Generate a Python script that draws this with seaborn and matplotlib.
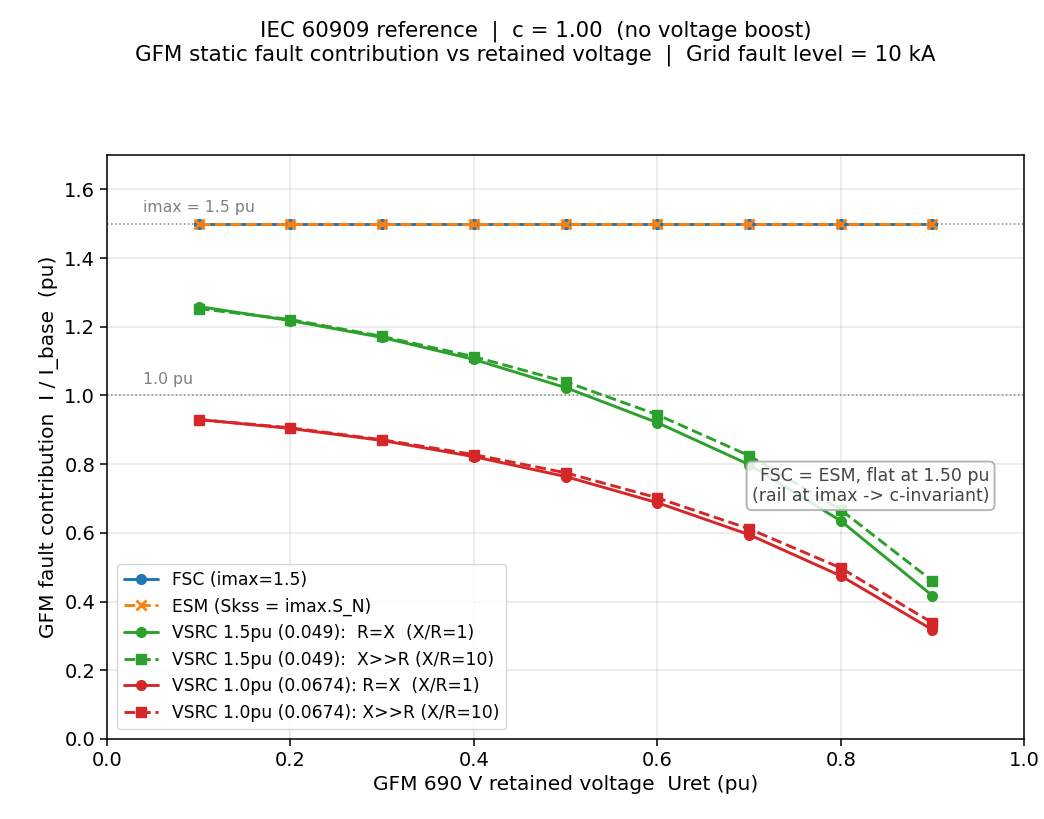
import numpy as np
import pandas as pd
import matplotlib
matplotlib.use("Agg")
import matplotlib.pyplot as plt
import seaborn as sns

uret = [0.1, 0.2, 0.3, 0.4, 0.5, 0.6, 0.7, 0.8, 0.9]
fsc = [1.5] * 9
esm = [1.5] * 9
vsrc15_rx = [1.259, 1.218, 1.169, 1.105, 1.023, 0.921, 0.799, 0.635, 0.417]
vsrc15_xr = [1.253, 1.221, 1.172, 1.113, 1.040, 0.944, 0.825, 0.667, 0.460]
vsrc10_rx = [0.930, 0.904, 0.869, 0.822, 0.764, 0.688, 0.595, 0.475, 0.318]
vsrc10_xr = [0.930, 0.906, 0.871, 0.828, 0.775, 0.702, 0.612, 0.498, 0.338]

labels = ["FSC (imax=1.5)",
          "ESM (Skss = imax.S_N)",
          "VSRC 1.5pu (0.049):  R=X  (X/R=1)",
          "VSRC 1.5pu (0.049):  X>>R (X/R=10)",
          "VSRC 1.0pu (0.0674): R=X  (X/R=1)",
          "VSRC 1.0pu (0.0674): X>>R (X/R=10)"]
series = [fsc, esm, vsrc15_rx, vsrc15_xr, vsrc10_rx, vsrc10_xr]
colors = ["#1f77b4", "#ff7f0e", "#2ca02c", "#2ca02c", "#d62728", "#d62728"]
markers = ["o", "x", "o", "s", "o", "s"]
styles = ["-", "--", "-", "--", "-", "--"]

sns.set_style("ticks")
plt.rcParams['font.family'] = ['DejaVu Sans']
plt.rcParams.update({"text.color": "black", "axes.labelcolor": "black",
                     "xtick.color": "black", "ytick.color": "black",
                     "axes.edgecolor": "black"})

fig = plt.figure(figsize=(10.44, 8.19), dpi=100)
ax = fig.add_axes([0.1025, 0.0977, 0.8785, 0.713])

for lab, vals, c, m, ls in zip(labels, series, colors, markers, styles):
    df = pd.DataFrame({"x": uret, "y": vals})
    sns.lineplot(data=df, x="x", y="y", ax=ax, color=c, marker=m, linestyle=ls,
                 linewidth=2.1, markersize=7, markeredgecolor=c,
                 markeredgewidth=2 if m == "x" else 1, label=lab)

ax.axhline(1.5, color="gray", linestyle=":", linewidth=1.1, zorder=0)
ax.axhline(1.0, color="gray", linestyle=":", linewidth=1.1, zorder=0)
ax.text(0.039, 1.525, "imax = 1.5 pu", color="gray", fontsize=11.3, va="bottom")
ax.text(0.039, 1.025, "1.0 pu", color="gray", fontsize=11.3, va="bottom")

ax.text(0.962, 0.737, "FSC = ESM, flat at 1.50 pu\n(rail at imax -> c-invariant)",
        ha="right", va="center", multialignment="right", fontsize=12.5, color="#444444",
        linespacing=1.15,
        bbox=dict(boxstyle="round,pad=0.3", facecolor="white", edgecolor="#aaaaaa",
                  linewidth=1.4, alpha=0.85))

ax.set_xlim(0, 1.0)
ax.set_ylim(0, 1.7)
ax.set_yticks(np.arange(0, 1.61, 0.2))
ax.grid(True, alpha=0.3, linewidth=1.1, color="#b0b0b0")
ax.tick_params(labelsize=14, length=5, width=1.1)
for s in ax.spines.values():
    s.set_linewidth(1.1)
ax.set_xlabel("GFM 690 V retained voltage  Uret (pu)", fontsize=14.5)
ax.set_ylabel("GFM fault contribution  I / I_base  (pu)", fontsize=14.5)
leg = ax.legend(loc="lower left", fontsize=12.3, borderaxespad=0.6)

fig.suptitle("IEC 60909 reference  |  c = 1.00  (no voltage boost)\n"
             "GFM static fault contribution vs retained voltage  |  Grid fault level = 10 kA",
             fontsize=15.4, x=0.513, y=0.975, linespacing=1.15)

fig.savefig("out.png", dpi=100)
